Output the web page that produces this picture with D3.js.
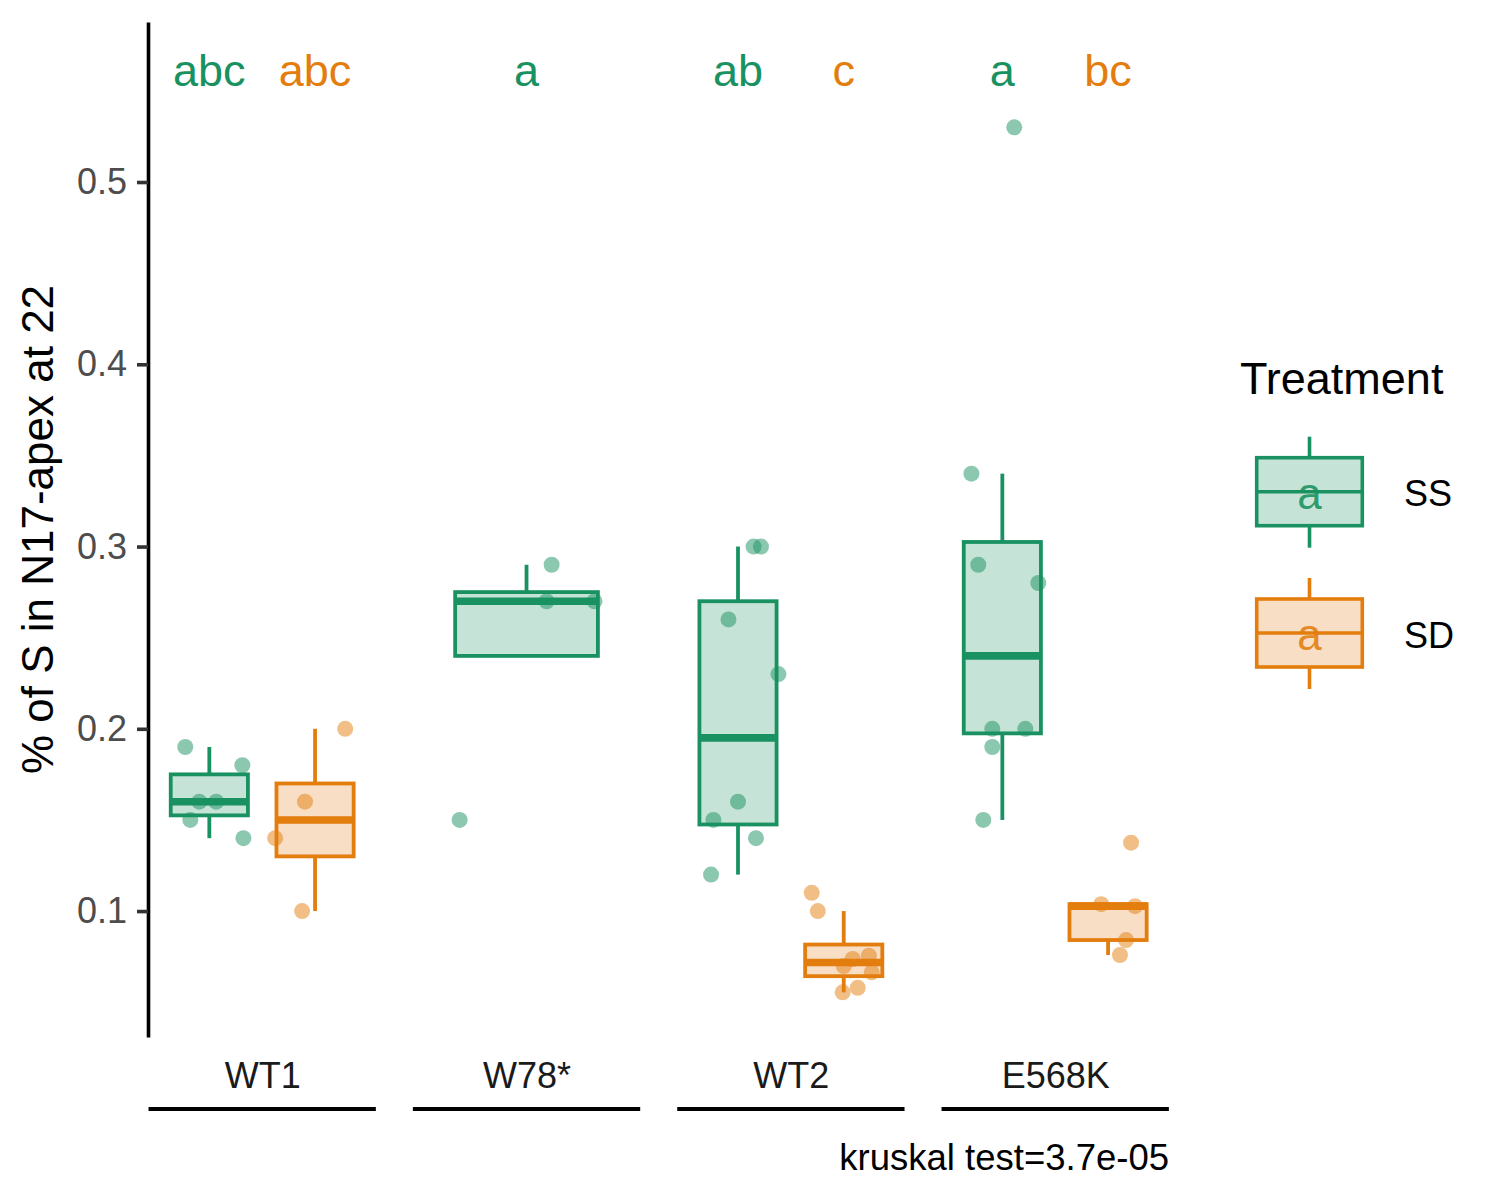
<!DOCTYPE html>
<html>
<head>
<meta charset="utf-8">
<script src="https://cdn.jsdelivr.net/npm/d3@7"></script>
<style>
  html, body { margin: 0; padding: 0; background: #fff; }
  svg { display: block; font-family: "Liberation Sans", Arial, Helvetica, sans-serif; }
</style>
</head>
<body>
<svg id="chart" width="1500" height="1200"></svg>
<script>
// ---------- data ----------
const genotypes = ["WT1", "W78*", "WT2", "E568K"];
const treatments = ["SS", "SD"];
const yTicks = [0.1, 0.2, 0.3, 0.4, 0.5];

const groupGenotype  = ["WT1", "WT1", "W78*", "WT2", "WT2", "E568K", "E568K"];
const groupTreatment = ["SS",  "SD",  "SS",   "SS",  "SD",  "SS",    "SD"];
const groupLetters   = ["abc", "abc", "a",    "ab",  "c",   "a",     "bc"];

const groupValues = [
  [0.19, 0.18, 0.16, 0.16, 0.15, 0.14],
  [0.20, 0.16, 0.14, 0.10],
  [0.29, 0.27, 0.27, 0.15],
  [0.30, 0.30, 0.26, 0.23, 0.16, 0.15, 0.14, 0.12],
  [0.11, 0.10, 0.0737, 0.0755, 0.0698, 0.0664, 0.0579, 0.0554],
  [0.53, 0.34, 0.29, 0.28, 0.20, 0.20, 0.19, 0.15],
  [0.1375, 0.1038, 0.1027, 0.0841, 0.0759]
];
// horizontal jitter of each point, in category units
const groupJitter = [
  [-0.091, 0.125, -0.038, 0.026, -0.072, 0.129],
  [0.114, -0.038, -0.151, -0.049],
  [0.095, 0.076, 0.257, -0.253],
  [0.059, 0.087, -0.036, 0.153, 0.0, -0.093, 0.068, -0.102],
  [-0.121, -0.098, 0.034, 0.095, 0.0, 0.106, 0.053, -0.004],
  [0.045, -0.117, -0.091, 0.136, -0.038, 0.087, -0.038, -0.072],
  [0.087, -0.026, 0.102, 0.068, 0.045]
];
const letterY = 0.5527;
const yTitle = "% of S in N17-apex at 22";
const legendTitle = "Treatment";
const caption = "kruskal test=3.7e-05";

// ---------- styles ----------
const lineCol = { SS: "#199161", SD: "#E37D0D" };
const fillCol = { SS: "#C6E3D7", SD: "#F7DEC4" };
const FONT_BIG = 44, FONT_SMALL = 36;
const LW = 3.8;

const svg = d3.select("#chart");

const x = d3.scalePoint().domain(genotypes).range([148, 1169.4]).padding(0.432);
const y = d3.scaleLinear().domain([0.0309, 0.5878]).range([1037, 22]);
const step = x.step();

const dodgeOff = 0.2, dodgedWidth = 0.292, singleWidth = 0.54;

// ---------- build groups ----------
const groups = groupGenotype.map((g, i) => {
  const tr = groupTreatment[i];
  const nInGeno = groupGenotype.filter(d => d === g).length;
  let center, width;
  if (nInGeno === 1) { center = x(g); width = singleWidth * step; }
  else {
    const k = treatments.indexOf(tr);
    center = x(g) + (k === 0 ? -dodgeOff : dodgeOff) * step;
    width = dodgedWidth * step;
  }
  const vals = groupValues[i].slice().sort(d3.ascending);
  const q1 = d3.quantile(vals, 0.25), med = d3.quantile(vals, 0.5), q3 = d3.quantile(vals, 0.75);
  const iqr = q3 - q1;
  const inl = vals.filter(v => v >= q1 - 1.5 * iqr && v <= q3 + 1.5 * iqr);
  return { g, tr, center, width, q1, med, q3, lo: d3.min(inl), hi: d3.max(inl),
           values: groupValues[i], jitter: groupJitter[i], letter: groupLetters[i] };
});

// ---------- y axis ----------
const yAxis = svg.append("g").attr("transform", "translate(148,0)")
  .call(d3.axisLeft(y).tickValues(yTicks).tickSize(11).tickPadding(10)
        .tickFormat(d3.format(".1f")).tickSizeOuter(0));
yAxis.select(".domain").attr("stroke", "#000").attr("stroke-width", 3.6);
yAxis.selectAll(".tick line").attr("stroke", "#333").attr("stroke-width", 3.6);
yAxis.selectAll(".tick text").attr("fill", "#4D4D4D").attr("font-size", FONT_SMALL)
  .attr("font-family", "Liberation Sans, Arial, sans-serif");

svg.append("text")
  .attr("transform", `translate(53,${(y.range()[0] + y.range()[1]) / 2}) rotate(-90)`)
  .attr("text-anchor", "middle").attr("font-size", FONT_BIG).attr("fill", "#000")
  .text(yTitle);

// ---------- boxes ----------
const gBox = svg.append("g");
groups.forEach(d => {
  const c = lineCol[d.tr];
  gBox.append("line").attr("x1", d.center).attr("x2", d.center)
    .attr("y1", y(d.q3)).attr("y2", y(d.hi)).attr("stroke", c).attr("stroke-width", LW);
  gBox.append("line").attr("x1", d.center).attr("x2", d.center)
    .attr("y1", y(d.q1)).attr("y2", y(d.lo)).attr("stroke", c).attr("stroke-width", LW);
  gBox.append("rect")
    .attr("x", d.center - d.width / 2).attr("width", d.width)
    .attr("y", y(d.q3)).attr("height", y(d.q1) - y(d.q3))
    .attr("fill", fillCol[d.tr]).attr("stroke", c).attr("stroke-width", LW);
  gBox.append("line")
    .attr("x1", d.center - d.width / 2).attr("x2", d.center + d.width / 2)
    .attr("y1", y(d.med)).attr("y2", y(d.med)).attr("stroke", c).attr("stroke-width", LW * 2);
});

// ---------- points ----------
const gPts = svg.append("g");
groups.forEach(d => {
  gPts.selectAll(null).data(d.values.map((v, j) => ({ v, j: d.jitter[j] })))
    .enter().append("circle")
    .attr("cx", p => d.center + p.j * step)
    .attr("cy", p => y(p.v))
    .attr("r", 8)
    .attr("fill", lineCol[d.tr]).attr("fill-opacity", 0.5);
});

// ---------- letters ----------
svg.append("g").selectAll("text").data(groups).enter().append("text")
  .attr("x", d => d.center).attr("y", y(letterY))
  .attr("text-anchor", "middle").attr("font-size", 45)
  .attr("fill", d => lineCol[d.tr]).text(d => d.letter);

// ---------- x labels & group lines ----------
const xAxis = svg.append("g").attr("transform", "translate(0,1052)")
  .call(d3.axisBottom(x).tickSize(0).tickPadding(10));
xAxis.select(".domain").remove();
xAxis.selectAll(".tick text").attr("font-size", FONT_SMALL).attr("fill", "#1A1A1A")
  .attr("font-family", "Liberation Sans, Arial, sans-serif");

svg.append("g").selectAll("line").data(genotypes).enter().append("line")
  .attr("x1", g => x(g) - 0.43 * step).attr("x2", g => x(g) + 0.43 * step)
  .attr("y1", 1109).attr("y2", 1109).attr("stroke", "#000").attr("stroke-width", 3.8);

svg.append("text").attr("x", 1169).attr("y", 1170).attr("text-anchor", "end")
  .attr("font-size", 36.5).attr("fill", "#000").text(caption);

// ---------- legend ----------
const lg = svg.append("g");
lg.append("text").attr("x", 1240).attr("y", 394).attr("font-size", 45)
  .attr("fill", "#000").text(legendTitle);
const keyTop = [457.7, 599];
treatments.forEach((t, i) => {
  const top = keyTop[i], h = 68, cx = 1309.5, left = 1256.7, w = 105.6;
  const c = lineCol[t];
  lg.append("line").attr("x1", cx).attr("x2", cx).attr("y1", top - 21).attr("y2", top + h + 22)
    .attr("stroke", c).attr("stroke-width", 3.6);
  lg.append("rect").attr("x", left).attr("y", top).attr("width", w).attr("height", h)
    .attr("fill", fillCol[t]).attr("stroke", c).attr("stroke-width", 3.6);
  lg.append("line").attr("x1", left).attr("x2", left + w).attr("y1", top + h / 2).attr("y2", top + h / 2)
    .attr("stroke", c).attr("stroke-width", 3.6);
  lg.append("text").attr("x", cx).attr("y", top + 51).attr("text-anchor", "middle")
    .attr("font-size", FONT_BIG).attr("fill", c).attr("fill-opacity", 0.9).text("a");
  lg.append("text").attr("x", 1404).attr("y", top + 48.5).attr("font-size", FONT_SMALL)
    .attr("fill", "#000").text(t);
});
</script>
</body>
</html>
